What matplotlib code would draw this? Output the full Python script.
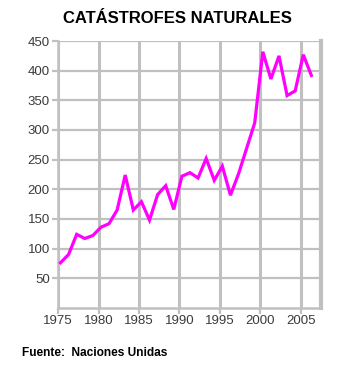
import matplotlib
matplotlib.use("Agg")
from matplotlib import pyplot as plt

plt.rcParams["font.family"] = ["Liberation Sans", "DejaVu Sans"]

# Natural disasters per year
years = list(range(1975, 2007))
disasters = [76, 90, 124, 117, 122, 136, 142, 165, 224, 165, 179, 148,
             191, 206, 166, 222, 228, 219, 252, 215, 239, 190, 226, 269,
             312, 432, 386, 425, 358, 366, 427, 392]
x_ticks = [1975, 1980, 1985, 1990, 1995, 2000, 2005]
y_ticks = [50, 100, 150, 200, 250, 300, 350, 400, 450]

grid_color = "#c0c0c0"

figure = plt.figure(figsize=(3.54, 3.70), dpi=100)
axes = figure.add_axes([0.164, 0.168, 0.743, 0.721])

# points sit a bit inside each year slot, as in the original
x_pos = [y + 0.3 for y in years]
axes.plot(x_pos, disasters, color="#ff00ff", linewidth=2.3, solid_joinstyle="miter", zorder=3)

axes.set_xlim(1975, 2007.5)
axes.set_ylim(0, 450)
axes.set_xticks(x_ticks)
axes.set_yticks(y_ticks)

axes.xaxis.grid(True, color=grid_color, linewidth=2.2)
axes.yaxis.grid(True, color=grid_color, linewidth=1.6)
axes.set_axisbelow(True)

for side in ["left", "bottom"]:
    axes.spines[side].set_color(grid_color)
    axes.spines[side].set_linewidth(1.8)
axes.spines["top"].set_visible(False)
axes.spines["right"].set_color(grid_color)
axes.spines["right"].set_linewidth(3)

axes.tick_params(axis="both", colors=grid_color, width=1.6, length=4, labelsize=9.5,
                 labelcolor="#3a3a3a")
axes.tick_params(axis="x", pad=1)
axes.tick_params(axis="y", pad=2)

figure.text(0.5, 0.95, "CATÁSTROFES NATURALES", ha="center", va="center",
            fontsize=12, fontweight="bold", color="black")
figure.text(0.062, 0.047, "Fuente:  Naciones Unidas", ha="left", va="center",
            fontsize=8.6, fontweight="bold", color="black")

figure.savefig("out.png", dpi=100)
